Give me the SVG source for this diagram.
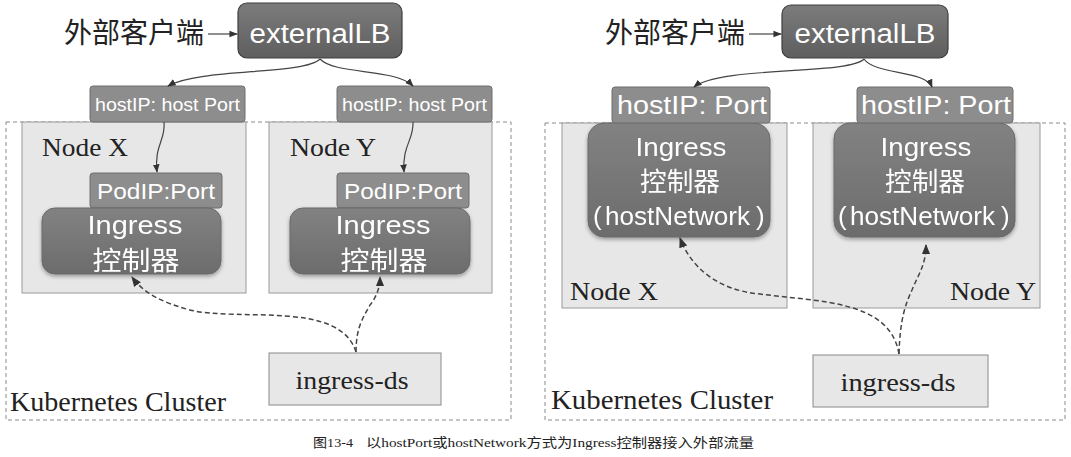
<svg xmlns="http://www.w3.org/2000/svg" width="1071" height="457" viewBox="0 0 1071 457">
<defs>
<linearGradient id="gLB" x1="0" y1="0" x2="0" y2="1"><stop offset="0" stop-color="#7c7c7c"/><stop offset="1" stop-color="#5e5e5e"/></linearGradient>
<linearGradient id="gIng" x1="0" y1="0" x2="0" y2="1"><stop offset="0" stop-color="#828282"/><stop offset="1" stop-color="#6c6c6c"/></linearGradient>
<filter id="sh" x="-10%" y="-10%" width="120%" height="130%"><feGaussianBlur in="SourceAlpha" stdDeviation="2"/><feOffset dy="2"/><feComponentTransfer><feFuncA type="linear" slope="0.35"/></feComponentTransfer><feMerge><feMergeNode/><feMergeNode in="SourceGraphic"/></feMerge></filter>
<marker id="ah" viewBox="0 0 10 10" refX="9" refY="5" markerWidth="7" markerHeight="7" orient="auto"><path d="M0,1 L10,5 L0,9 z" fill="#333"/></marker>
</defs>
<style>
.cjk{font-family:"Liberation Serif","Noto Sans CJK SC",serif;fill:#222}
.serif{font-family:"Liberation Serif","Noto Sans CJK SC",serif;fill:#222}
.lb{fill:url(#gLB);stroke:#3e3e3e;stroke-width:1.2}
.lbt{font-family:"Liberation Sans","Noto Sans CJK SC",sans-serif;fill:#fff;font-size:27px}
.hp{fill:#8d8d8d;stroke:#6e6e6e;stroke-width:1}
.hpt{font-family:"Liberation Sans","Noto Sans CJK SC",sans-serif;fill:#fff}
.node{fill:#e7e7e7;stroke:#9a9a9a;stroke-width:1}
.ing{fill:url(#gIng);stroke:#6a6a6a;stroke-width:1}
.ingt{font-family:"Liberation Sans","Noto Sans CJK SC",sans-serif;fill:#fff;font-size:26px}
.cl{fill:#fff;stroke:#8a8a8a;stroke-width:1;stroke-dasharray:4 3}
.ds{fill:#e7e7e7;stroke:#8a8a8a;stroke-width:1}
.solid{fill:none;stroke:#444;stroke-width:1.2}
.dash{fill:none;stroke:#444;stroke-width:1.5;stroke-dasharray:5 3}
</style>
<rect width="1071" height="457" fill="#fff"/>

<!-- LEFT PANEL -->
<g id="left-cluster">
<rect class="cl" x="6" y="122" width="505" height="298"/>
<text class="serif" x="10" y="411" font-size="27" textLength="216" lengthAdjust="spacingAndGlyphs">Kubernetes Cluster</text>
</g>
<g id="left-client"><text class="cjk" x="64" y="43" font-size="28">外部客户端</text></g>
<g id="left-lb">
<rect class="lb" x="238" y="3" width="164" height="55" rx="9"/>
<text class="lbt" x="320" y="43" text-anchor="middle" textLength="141" lengthAdjust="spacingAndGlyphs">externalLB</text>
</g>
<g id="left-nodeX">
<rect class="node" x="22" y="122" width="224" height="171"/>
<text class="serif" x="42" y="156" font-size="25" textLength="86" lengthAdjust="spacingAndGlyphs">Node X</text>
</g>
<g id="left-nodeY">
<rect class="node" x="269" y="122" width="223" height="171"/>
<text class="serif" x="290" y="156" font-size="25" textLength="86" lengthAdjust="spacingAndGlyphs">Node Y</text>
</g>
<g id="left-hostip-x">
<rect class="hp" x="90" y="86" width="155" height="36" rx="3"/>
<text class="hpt" x="167.5" y="111" font-size="19" text-anchor="middle" textLength="145" lengthAdjust="spacingAndGlyphs">hostIP: host Port</text>
</g>
<g id="left-hostip-y">
<rect class="hp" x="337" y="86" width="155" height="36" rx="3"/>
<text class="hpt" x="414.5" y="111" font-size="19" text-anchor="middle" textLength="145" lengthAdjust="spacingAndGlyphs">hostIP: host Port</text>
</g>
<g id="left-podip-x">
<rect class="hp" x="90" y="173" width="132" height="35" rx="3"/>
<text class="hpt" x="156" y="199" font-size="22" text-anchor="middle" textLength="118" lengthAdjust="spacingAndGlyphs">PodIP:Port</text>
</g>
<g id="left-podip-y">
<rect class="hp" x="337" y="173" width="132" height="35" rx="3"/>
<text class="hpt" x="403" y="199" font-size="22" text-anchor="middle" textLength="118" lengthAdjust="spacingAndGlyphs">PodIP:Port</text>
</g>
<g id="left-ing-x" filter="url(#sh)">
<rect class="ing" x="42" y="208" width="179" height="66" rx="13"/>
<text class="ingt" x="135" y="234" text-anchor="middle" textLength="95" lengthAdjust="spacingAndGlyphs">Ingress</text>
<text class="ingt" x="136" y="270" text-anchor="middle" textLength="87" lengthAdjust="spacingAndGlyphs">控制器</text>
</g>
<g id="left-ing-y" filter="url(#sh)">
<rect class="ing" x="290" y="208" width="180" height="66" rx="13"/>
<text class="ingt" x="383" y="234" text-anchor="middle" textLength="95" lengthAdjust="spacingAndGlyphs">Ingress</text>
<text class="ingt" x="384" y="270" text-anchor="middle" textLength="87" lengthAdjust="spacingAndGlyphs">控制器</text>
</g>
<g id="left-ds">
<rect class="ds" x="269" y="353" width="172" height="52"/>
<text class="serif" x="352" y="389" font-size="26" text-anchor="middle" textLength="113" lengthAdjust="spacingAndGlyphs">ingress-ds</text>
</g>

<!-- RIGHT PANEL -->
<g id="right-cluster">
<rect class="cl" x="545" y="123" width="520" height="297"/>
<text class="serif" x="551" y="409" font-size="27" textLength="222" lengthAdjust="spacingAndGlyphs">Kubernetes Cluster</text>
</g>
<g id="right-client"><text class="cjk" x="605" y="43" font-size="28">外部客户端</text></g>
<g id="right-lb">
<rect class="lb" x="782" y="5" width="166" height="53" rx="9"/>
<text class="lbt" x="865" y="43" text-anchor="middle" textLength="141" lengthAdjust="spacingAndGlyphs">externalLB</text>
</g>
<g id="right-nodeX">
<rect class="node" x="562" y="123" width="225" height="185"/>
<text class="serif" x="570" y="300" font-size="25" textLength="88" lengthAdjust="spacingAndGlyphs">Node X</text>
</g>
<g id="right-nodeY">
<rect class="node" x="813" y="123" width="227" height="185"/>
<text class="serif" x="1036" y="300" font-size="25" text-anchor="end" textLength="86" lengthAdjust="spacingAndGlyphs">Node Y</text>
</g>
<g id="right-ing-x" filter="url(#sh)">
<rect class="ing" x="588" y="123" width="182" height="114" rx="16"/>
<text class="ingt" x="681" y="156" text-anchor="middle" textLength="91" lengthAdjust="spacingAndGlyphs">Ingress</text>
<text class="ingt" x="680" y="191" text-anchor="middle" textLength="80" lengthAdjust="spacingAndGlyphs">控制器</text>
<text class="ingt" x="593" y="225" font-size="25">(<tspan x="605" textLength="145" lengthAdjust="spacingAndGlyphs">hostNetwork</tspan><tspan x="756">)</tspan></text>
</g>
<g id="right-ing-y" filter="url(#sh)">
<rect class="ing" x="834" y="123" width="181" height="114" rx="16"/>
<text class="ingt" x="926" y="156" text-anchor="middle" textLength="91" lengthAdjust="spacingAndGlyphs">Ingress</text>
<text class="ingt" x="925" y="191" text-anchor="middle" textLength="80" lengthAdjust="spacingAndGlyphs">控制器</text>
<text class="ingt" x="838" y="225" font-size="25">(<tspan x="850" textLength="145" lengthAdjust="spacingAndGlyphs">hostNetwork</tspan><tspan x="1001">)</tspan></text>
</g>
<g id="right-hostip-x">
<rect class="hp" x="612" y="87" width="158" height="36" rx="3"/>
<text class="hpt" x="692" y="114" font-size="26" text-anchor="middle" textLength="150" lengthAdjust="spacingAndGlyphs">hostIP: Port</text>
</g>
<g id="right-hostip-y">
<rect class="hp" x="857" y="87" width="156" height="36" rx="3"/>
<text class="hpt" x="936" y="114" font-size="26" text-anchor="middle" textLength="150" lengthAdjust="spacingAndGlyphs">hostIP: Port</text>
</g>
<g id="right-ds">
<rect class="ds" x="813" y="355" width="175" height="52"/>
<text class="serif" x="898" y="391" font-size="26" text-anchor="middle" textLength="115" lengthAdjust="spacingAndGlyphs">ingress-ds</text>
</g>

<!-- CONNECTORS -->
<g id="connectors">
<path class="solid" marker-end="url(#ah)" d="M208,34 L237,34"/>
<path class="solid" marker-end="url(#ah)" d="M320,59 C305,75 200,68 168,86"/>
<path class="solid" marker-end="url(#ah)" d="M320,59 C335,75 395,68 413,86"/>
<path class="solid" marker-end="url(#ah)" d="M164,122 C166,140 154,145 157,172"/>
<path class="solid" marker-end="url(#ah)" d="M413,122 C414,140 402,145 404,172"/>
<path class="dash" marker-end="url(#ah)" d="M356,352 C340,300 240,322 190,310 C165,303 145,295 132,277"/>
<path class="dash" marker-end="url(#ah)" d="M356,352 C356,325 365,315 370,305 C378,295 380,285 380,277"/>
<path class="solid" marker-end="url(#ah)" d="M749,34 L781,34"/>
<path class="solid" marker-end="url(#ah)" d="M864,59 C850,75 720,66 694,87"/>
<path class="solid" marker-end="url(#ah)" d="M864,59 C875,75 925,70 932,87"/>
<path class="dash" marker-end="url(#ah)" d="M899,354 C890,300 820,302 760,294 C715,290 690,265 680,238"/>
<path class="dash" marker-end="url(#ah)" d="M899,354 C900,320 905,305 912,290 C918,275 926,265 926,245"/>
</g>

<g id="caption"><text class="serif" x="313" y="447" font-size="13" fill="#222"><tspan textLength="40" lengthAdjust="spacingAndGlyphs">图13-4</tspan><tspan x="366" textLength="388" lengthAdjust="spacingAndGlyphs">以hostPort或hostNetwork方式为Ingress控制器接入外部流量</tspan></text></g>
</svg>
